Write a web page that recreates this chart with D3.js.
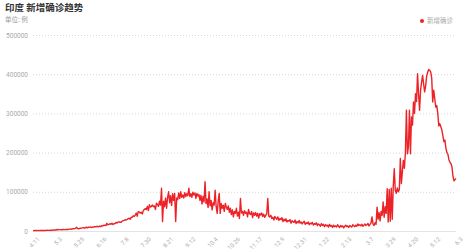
<!DOCTYPE html>
<html>
<head>
<meta charset="utf-8">
<script src="https://cdn.jsdelivr.net/npm/d3@7"></script>
<style>
  body { margin: 0; background: #fff; font-family: "Noto Sans CJK SC", "Noto Sans", sans-serif; }
  svg { display: block; }
</style>
</head>
<body>
<svg id="chart"></svg>
<script>
// daily new confirmed cases, India, 2020-04-11 .. 2021-06-03 (one value per day)
const startDay = "2020-04-11";
const endDay = "2021-06-03";
const tickDays = ["2020-04-11", "2020-05-03", "2020-05-25", "2020-06-16", "2020-07-08", "2020-07-30",
    "2020-08-21", "2020-09-12", "2020-10-04", "2020-10-26", "2020-11-17", "2020-12-09", "2020-12-31",
    "2021-01-22", "2021-02-13", "2021-03-07", "2021-03-29", "2021-04-20", "2021-05-12", "2021-06-03"];
const yTicks = [0, 100000, 200000, 300000, 400000, 500000];
const seriesName = "新增确诊";
const cases = [
    1000, 900, 1200, 1100, 1000, 1100, 1000, 1300, 1300, 1600,
    1300, 1500, 1400, 1700, 1800, 1600, 1500, 1800, 1900, 1800,
    2400, 2500, 2700, 2600, 3900, 3000, 3600, 3600, 3300, 3300,
    4200, 3600, 3500, 3700, 3900, 3900, 4900, 5000, 4600, 5600,
    5600, 6100, 6600, 9400, 6900, 5500, 6400, 7200, 7400, 8000,
    8400, 7600, 8900, 9600, 8200, 9900, 9400, 10400, 8900, 10200,
    9900, 11300, 10500, 11900, 11500, 10700, 12800, 11000, 13600, 12900,
    14500, 14800, 13500, 19600, 15900, 16900, 18500, 17300, 19900, 16400,
    18600, 19100, 21900, 20300, 22700, 23000, 22300, 22200, 24800, 26500,
    27100, 28600, 28200, 29000, 31700, 32600, 29800, 34900, 34800, 38900,
    37100, 40400, 45700, 37800, 49300, 48800, 45600, 47700, 43500, 52000,
    55000, 57100, 54700, 62900, 52000, 67000, 61100, 62500, 66300, 62000,
    64000, 55000, 71000, 67000, 63000, 76000, 66000, 109000, 24000, 76000,
    62000, 84000, 58000, 86000, 100000, 72000, 90000, 65000, 95000, 78000,
    96000, 24000, 84000, 80000, 97000, 83000, 100000, 86000, 92000, 84000,
    98000, 88000, 95000, 90000, 109000, 88000, 95000, 86000, 99000, 92000,
    97000, 83000, 96000, 89000, 93000, 78000, 91000, 69000, 88000, 74000,
    126000, 70000, 82000, 60000, 100000, 64000, 78000, 54000, 72000, 66000,
    104000, 62000, 45000, 76000, 96000, 45000, 70000, 58000, 66000, 50000,
    70000, 62000, 55000, 64000, 48000, 58000, 42000, 54000, 36000, 50000,
    45000, 58000, 38000, 48000, 32000, 83000, 46000, 50000, 40000, 52000,
    45000, 48000, 36000, 55000, 44000, 42000, 50000, 34000, 46000, 40000,
    47000, 38000, 45000, 33000, 44000, 41000, 46000, 37000, 43000, 35000,
    40000, 44000, 83000, 38000, 36000, 40000, 32000, 35000, 28000, 37000,
    33000, 30000, 36000, 27000, 32000, 29000, 34000, 24000, 30000, 26000,
    31000, 23000, 27000, 25000, 29000, 20000, 26000, 24000, 22000, 28000,
    19000, 24000, 21000, 27000, 20000, 23000, 18000, 22000, 25000, 17000,
    21000, 19000, 23000, 16000, 20000, 18000, 22000, 15000, 19000, 17000,
    21000, 14000, 18000, 16000, 12000, 19000, 14000, 17000, 11000, 16000,
    13000, 15000, 10000, 17000, 12000, 14000, 9000, 15000, 11000, 13000,
    10000, 16000, 12000, 9000, 14000, 11000, 13000, 8000, 12000, 15000,
    11000, 13000, 9000, 14000, 12000, 10000, 16000, 13000, 11000, 15000,
    12000, 18000, 14000, 16000, 13000, 17000, 12000, 15000, 18000, 14000,
    16000, 19000, 13000, 17000, 20000, 36000, 18000, 14000, 21000, 17000,
    61000, 30000, 47000, 26000, 50000, 40000, 74000, 35000, 62000, 45000,
    108000, 23000, 106000, 25000, 109000, 30000, 115000, 159000, 104000, 96000,
    110000, 100000, 106000, 185000, 121000, 152000, 180000, 160000, 200000, 308000,
    197000, 215000, 308000, 197000, 291000, 270000, 329000, 300000, 350000, 330000,
    401000, 350000, 308000, 360000, 380000, 397000, 375000, 355000, 370000, 395000,
    405000, 412000, 410000, 406000, 390000, 329000, 359000, 338000, 316000, 320000,
    300000, 268000, 274000, 266000, 258000, 244000, 228000, 232000, 212000, 200000,
    196000, 182000, 176000, 172000, 164000, 140000, 128000, 131000, 134000
];

const W = 465, H = 252;
const margin = { top: 35, right: 9, bottom: 21, left: 33 },
    width = W - margin.left - margin.right,
    height = H - margin.top - margin.bottom;

const parseDay = d3.timeParse("%Y-%m-%d");
const days = d3.timeDay.range(parseDay(startDay), d3.timeDay.offset(parseDay(endDay), 1));
const data = days.map((d, i) => ({ date: d, value: cases[i] }));

const svg = d3.select("#chart")
    .attr("width", W)
    .attr("height", H);

const g = svg.append("g")
    .attr("transform", `translate(${margin.left},${margin.top})`);

const x = d3.scaleTime()
    .domain([parseDay(startDay), parseDay(endDay)])
    .range([0, width]);

const y = d3.scaleLinear()
    .domain([0, 500000])
    .range([height, 0]);

// dotted grid + y labels
const yAxis = g.append("g")
    .call(d3.axisLeft(y)
        .tickValues(yTicks)
        .tickFormat(d3.format("d"))
        .tickSize(-width)
        .tickPadding(5));
yAxis.select(".domain").remove();
yAxis.selectAll(".tick line")
    .attr("stroke", d => d === 0 ? "#e3e3e3" : "#d6d6d6")
    .attr("stroke-dasharray", d => d === 0 ? null : "1,2");
yAxis.selectAll(".tick text")
    .attr("fill", "#aaa")
    .style("font-size", "6.5px")
    .style("font-family", "Roboto, 'Noto Sans', sans-serif");

// x axis with rotated labels
const xAxis = g.append("g")
    .attr("transform", `translate(0,${height})`)
    .call(d3.axisBottom(x)
        .tickValues(tickDays.map(parseDay))
        .tickFormat(d3.timeFormat("%-m.%-d"))
        .tickSize(0));
xAxis.select(".domain").remove();
xAxis.selectAll(".tick text")
    .attr("fill", "#aaa")
    .style("font-size", "6px")
    .style("font-family", "Roboto, 'Noto Sans', sans-serif")
    .attr("text-anchor", "end")
    .attr("dy", "0.35em")
    .attr("transform", "translate(3,5) rotate(-45)");

// the line
const line = d3.line()
    .x(d => x(d.date))
    .y(d => y(d.value));

g.append("path")
    .datum(data)
    .attr("fill", "none")
    .attr("stroke", "#ec2227")
    .attr("stroke-width", 1.4)
    .attr("stroke-linejoin", "round")
    .attr("d", line);

// title
svg.append("text")
    .attr("x", 5)
    .attr("y", 11)
    .attr("fill", "#333")
    .style("font-size", "9.5px")
    .style("font-weight", "bold")
    .text("印度 新增确诊趋势");

svg.append("text")
    .attr("x", 5)
    .attr("y", 22)
    .attr("fill", "#999")
    .style("font-size", "6.5px")
    .text("单位: 例");

// legend
const legend = svg.append("g")
    .attr("transform", "translate(422,21)");
legend.append("circle")
    .attr("r", 2)
    .attr("fill", "#ec2227");
legend.append("text")
    .attr("x", 5)
    .attr("dy", "0.35em")
    .attr("fill", "#aaa")
    .style("font-size", "6.5px")
    .text(seriesName);
</script>
</body>
</html>
